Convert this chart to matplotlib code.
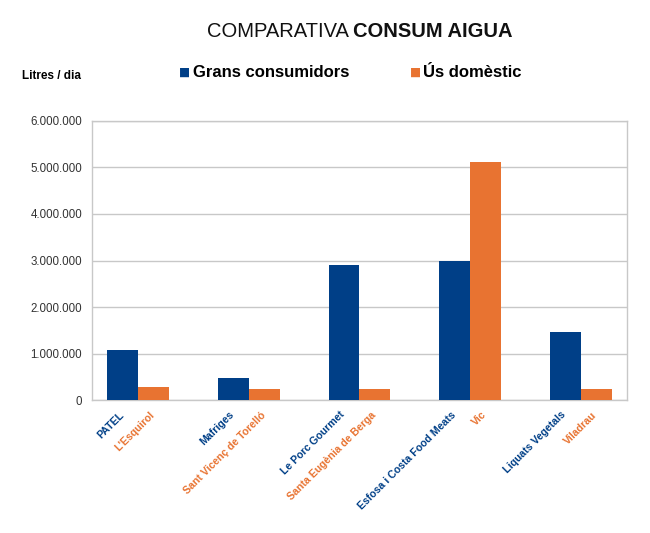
import matplotlib
matplotlib.use("Agg")
import matplotlib.pyplot as plt
from matplotlib.ticker import FuncFormatter
from matplotlib.transforms import offset_copy

plt.rcParams["font.family"] = ["Liberation Sans", "DejaVu Sans"]

# data (litres / dia)
grans_labels = ["PATEL", "Mafriges", "Le Porc Gourmet", "Esfosa i Costa Food Meats", "Liquats Vegetals"]
domestic_labels = ["L'Esquirol", "Sant Vicenç de Torelló", "Santa Eugènia de Berga", "Vic", "Viladrau"]
grans_values = [1080000, 465000, 2900000, 3000000, 1465000]
domestic_values = [280000, 230000, 230000, 5120000, 235000]

BLUE, ORANGE = "#003f87", "#e87331"
GRID = "#c8c8c8"

fig = plt.figure(figsize=(6.5, 5.33), dpi=100)
ax = fig.add_axes([0.1415, 0.2495, 0.8231, 0.5235])

w = 0.28
xs = list(range(len(grans_values)))
xb = [x - w / 2 for x in xs]
xo = [x + w / 2 for x in xs]
ax.bar(xb, grans_values, w, color=BLUE, zorder=3)
ax.bar(xo, domestic_values, w, color=ORANGE, zorder=3)

ax.set_xlim(-0.42, 4.42)
ax.set_ylim(0, 6000000)
ax.set_yticks(range(0, 6000001, 1000000))
ax.yaxis.set_major_formatter(FuncFormatter(lambda v, p: f"{int(v):,}".replace(",", ".")))
ax.tick_params(axis="y", length=0, pad=7, labelsize=8.3, labelcolor="#333333")
ax.set_xticks([])
ax.grid(axis="y", color=GRID, lw=1, zorder=0)
for s in ax.spines.values():
    s.set_color(GRID)
    s.set_linewidth(1)

# rotated category labels, one under each bar
trans = offset_copy(ax.get_xaxis_transform(), fig=fig, x=-3, y=-7, units="points")
for x, lab in zip(xb, grans_labels):
    ax.text(x, 0, lab, transform=trans, rotation=45, rotation_mode="anchor",
            ha="right", va="top", fontsize=7.6, fontweight="bold", color=BLUE)
for x, lab in zip(xo, domestic_labels):
    ax.text(x, 0, lab, transform=trans, rotation=45, rotation_mode="anchor",
            ha="right", va="top", fontsize=7.6, fontweight="bold", color=ORANGE)

# title
t1 = fig.text(0.318, 0.94, "COMPARATIVA ", fontsize=14.5, color="#111111", va="center")
fig.canvas.draw()
bb = t1.get_window_extent()
fig.text(bb.x1 / fig.bbox.width, 0.94, "CONSUM AIGUA", fontsize=14.5,
         fontweight="bold", color="#111111", va="center")

# legend
fig.text(0.034, 0.857, "Litres / dia", fontsize=8.5, fontweight="bold", va="center")
fig.text(0.276, 0.864, "■", fontsize=8.5, color=BLUE, va="center", family="DejaVu Sans")
fig.text(0.297, 0.864, "Grans consumidors", fontsize=12, fontweight="bold", va="center")
fig.text(0.631, 0.864, "■", fontsize=8.5, color=ORANGE, va="center", family="DejaVu Sans")
fig.text(0.651, 0.864, "Ús domèstic", fontsize=12, fontweight="bold", va="center")

fig.savefig("out.png", dpi=100)
